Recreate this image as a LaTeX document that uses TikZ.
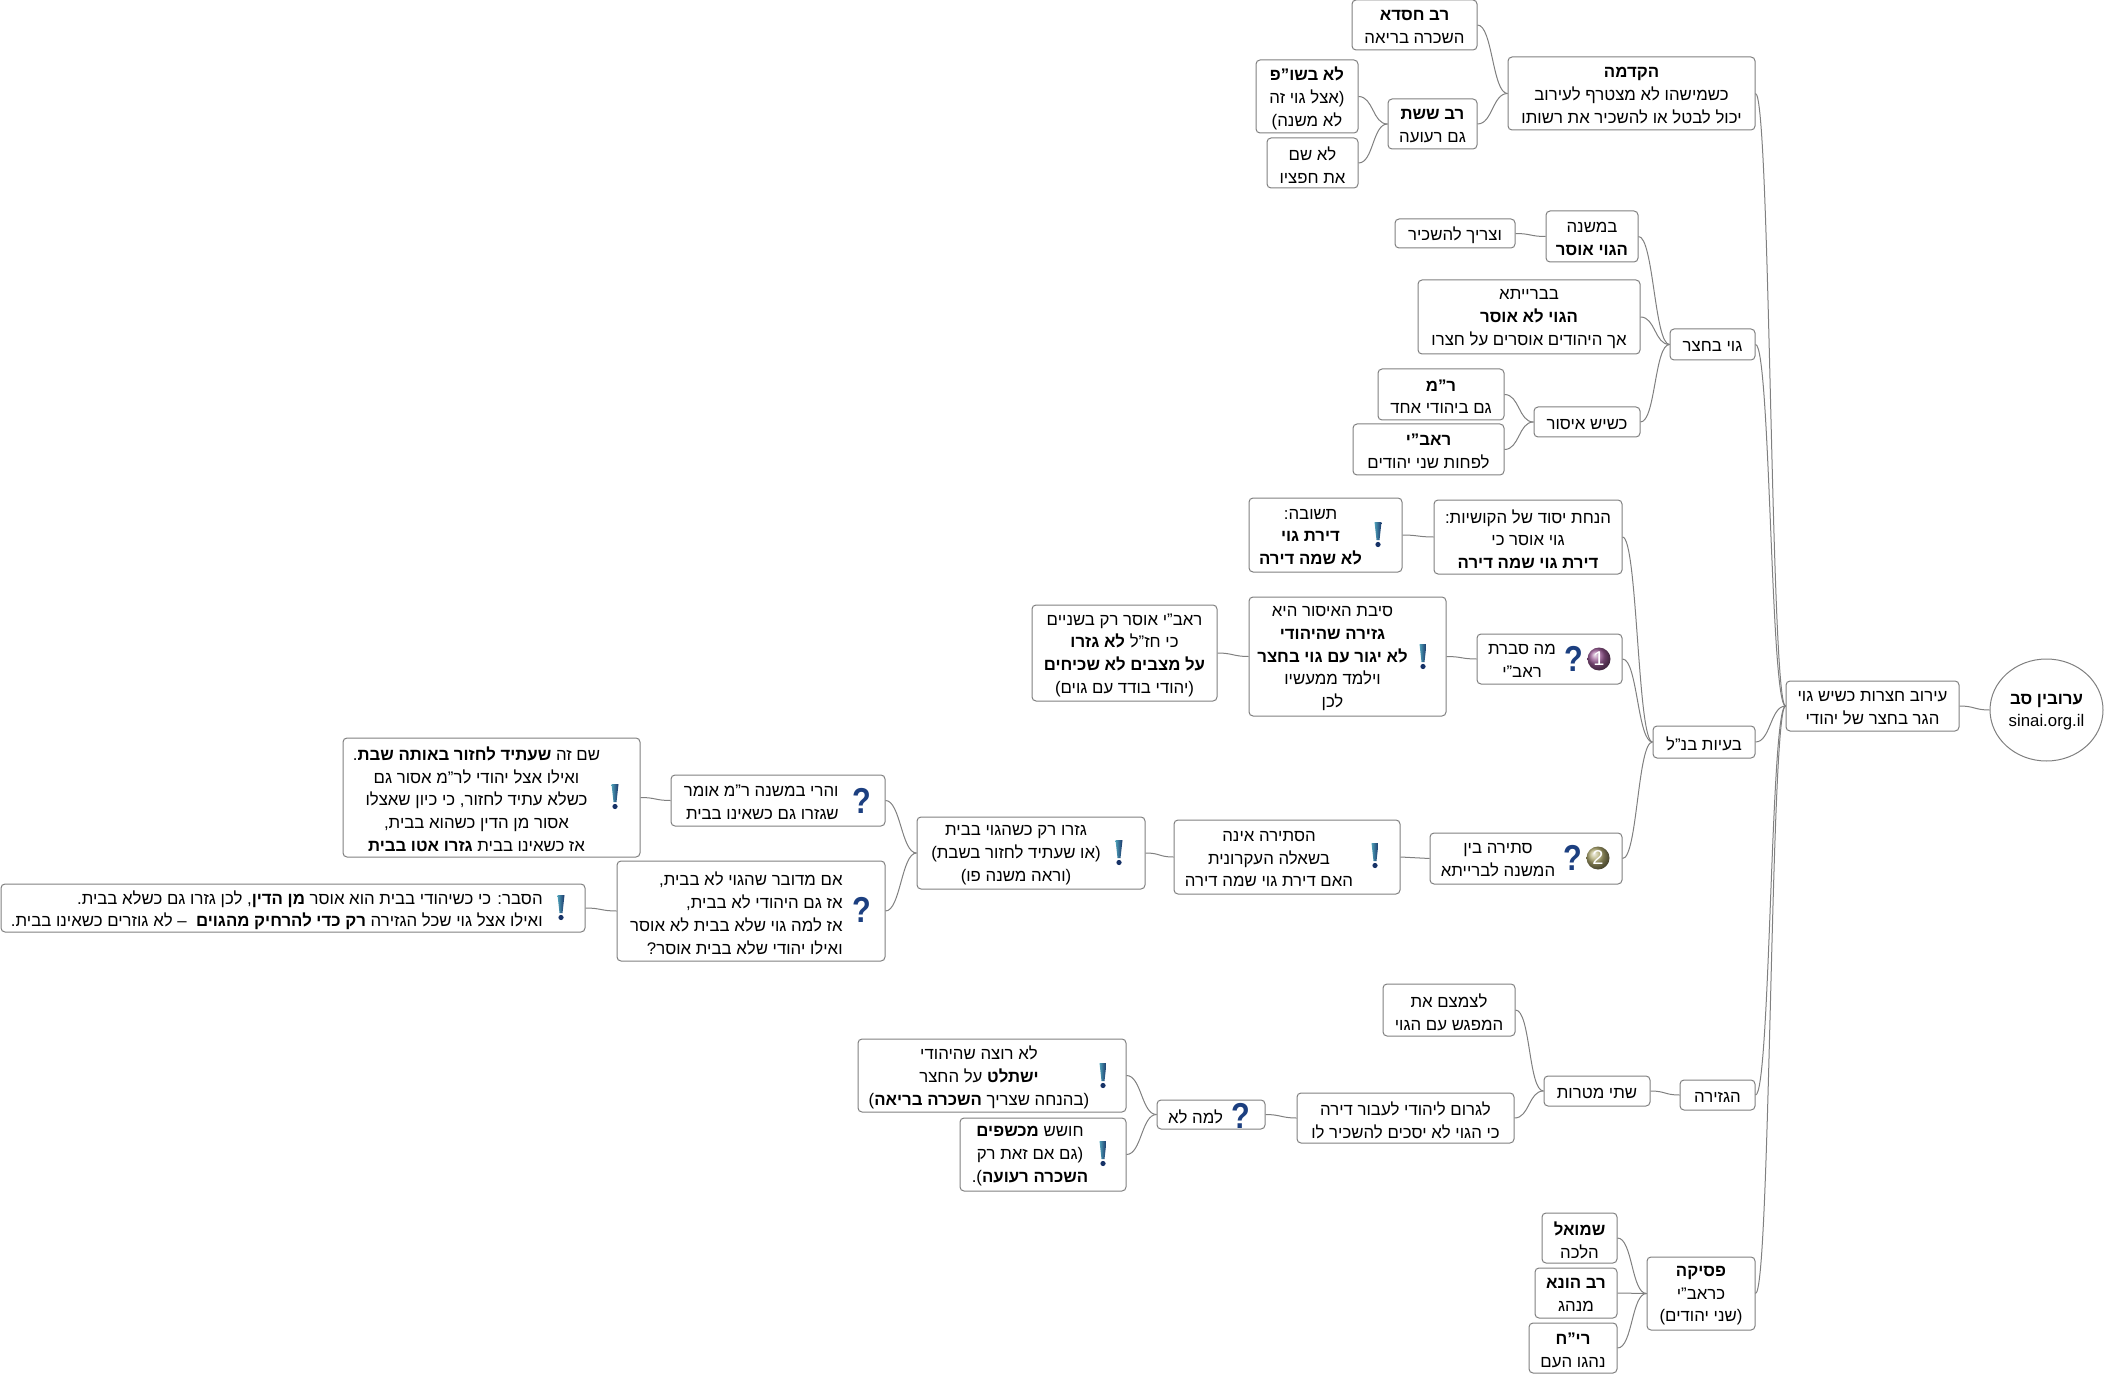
\documentclass[tikz,border=0pt]{standalone}
\usepackage{fontspec}
\setmainfont[Script=Hebrew]{Liberation Sans}
\TeXXeTstate=1
\usepackage{xcolor}
\usepackage{graphicx}
\usetikzlibrary{shapes.geometric}
\newcommand{\low}[1]{\raisebox{-1.1pt}[\height][\depth]{#1}}
\newcommand{\heb}[1]{\low{\beginR #1\endR}}
\definecolor{linegray}{HTML}{808080}
\definecolor{iconblue}{HTML}{1C3F80}
\definecolor{iconteal}{HTML}{4FA0B8}
\definecolor{ballone}{HTML}{9A5A95}
\definecolor{balltwo}{HTML}{B0AA70}
\begin{document}
\begin{tikzpicture}[x=0.5pt, y=-0.5pt, every node/.style={font=\fontsize{8.4}{11.4}\selectfont}]
\tikzset{
  sz/.style 2 args={minimum width=#1*0.5pt, minimum height=#2*0.5pt},
  mcell/.style={draw=linegray, fill=white, rounded corners=2pt, line width=0.5pt, inner sep=0pt, align=center},
  tcell/.style={inner sep=0pt, align=center},
  rcell/.style={inner sep=0pt, align=right, anchor=east},
  link/.style={draw=linegray, line width=0.5pt},
  bangpic/.pic={
    \shade[left color=iconteal, right color=iconblue!80!black] (-3.5,-12) -- (3.5,-12) -- (1.5,6) -- (-1.5,6) -- cycle;
    \fill[iconblue!80!black] (0,10.5) circle[radius=1.3pt];
  },
  ask/.style={inner sep=0pt, text=iconblue, font=\fontsize{18}{18}\selectfont\bfseries},
  ballnum/.style={circle, inner sep=0pt, minimum size=11.5pt, text=white, font=\fontsize{10}{10}\selectfont},
}
\newcommand{\askmark}{\scalebox{0.85}[1]{?}}
\useasboundingbox (0,0) rectangle (2104,1374);
% root and main topic
\node[draw=linegray, fill=white, ellipse, line width=0.5pt, inner sep=0pt, align=center, sz={113}{102}] (root) at (2046.5,710) {\heb{\textbf{ערובין סב}}\\\low{sinai.org.il}};
\node[mcell, sz={173}{50}] (eiruv) at (1872.5,706) {\heb{עירוב חצרות כשיש גוי}\\\heb{הגר בחצר של יהודי}};
% introduction
\node[mcell, sz={247}{73}] (hakdama) at (1631.5,93.5) {\heb{\textbf{הקדמה}}\\\heb{כשמישהו לא מצטרף לעירוב}\\\heb{יכול לבטל או להשכיר את רשותו}};
\node[mcell, sz={125}{50}] (ravchisda) at (1414.5,25) {\heb{\textbf{רב חסדא}}\\\heb{השכרה בריאה}};
\node[mcell, sz={89}{50}] (ravsheshet) at (1432.5,124) {\heb{\textbf{רב ששת}}\\\heb{גם רעועה}};
\node[mcell, sz={102}{73}] (lobeshup) at (1307,96.5) {\heb{\textbf{לא בשו"פ}}\\\heb{(אצל גוי זה}\\\heb{לא משנה)}};
\node[mcell, sz={91}{50}] (loshem) at (1312.5,163) {\heb{לא שם}\\\heb{את חפציו}};
% gentile in the yard
\node[mcell, sz={85}{31}] (goyb) at (1712.5,344.5) {\heb{גוי בחצר}};
\node[mcell, sz={92}{51}] (bamishna) at (1592,236.5) {\heb{במשנה}\\\heb{\textbf{הגוי אוסר}}};
\node[mcell, sz={120}{29}] (vetzarich) at (1455,233.5) {\heb{וצריך להשכיר}};
\node[mcell, sz={222}{74}] (baraita) at (1529,317) {\heb{בברייתא}\\\heb{\textbf{הגוי לא אוסר}}\\\heb{אך היהודים אוסרים על חצרו}};
\node[mcell, sz={106}{30}] (ksheyesh) at (1587,422) {\heb{כשיש איסור}};
\node[mcell, sz={126}{51}] (ramam) at (1441,394.5) {\heb{\textbf{ר"מ}}\\\heb{גם ביהודי אחד}};
\node[mcell, sz={151}{51}] (raavi) at (1428.5,449.5) {\heb{\textbf{ראב"י}}\\\heb{לפחות שני יהודים}};
% problems
\node[mcell, sz={102}{32}] (baayot) at (1704,742) {\heb{בעיות בנ"ל}};
\node[mcell, sz={188}{74}] (hanachat) at (1528,537) {\heb{הנחת יסוד של הקושיות:}\\\heb{גוי אוסר כי}\\\heb{\textbf{דירת גוי שמה דירה}}};
\node[mcell, sz={153}{74}] (teshuva) at (1325.5,535) {};
\node[tcell] (teshuvatxt) at (1310.5,535) {\heb{תשובה:}\\\heb{\textbf{דירת גוי}}\\\heb{\textbf{לא שמה דירה}}};
\pic (teshuvaicon) at (1378,534) {bangpic};
\node[mcell, sz={145}{50}] (masvarat) at (1549.5,659) {};
\node[tcell] (masvarattxt) at (1522,659) {\heb{מה סברת}\\\heb{ראב"י}};
\node[ask] (masvaraticon) at (1574,659) {\askmark};
\node[ballnum, shading=ball, ball color=ballone] (masvaratnum) at (1599,659) {1};
\node[mcell, sz={197}{119}] (sibat) at (1347.5,656.5) {};
\node[tcell] (sibattxt) at (1332.5,656.5) {\heb{סיבת האיסור היא}\\\heb{\textbf{גזירה שהיהודי}}\\\heb{\textbf{לא יגור עם גוי בחצר}}\\\heb{וילמד ממעשיו}\\\heb{לכן}};
\pic (sibaticon) at (1423,656) {bangpic};
\node[mcell, sz={185}{96}] (raaviosser) at (1124.5,653) {\heb{ראב"י אוסר רק בשניים}\\\heb{כי חז"ל \textbf{לא גזרו}}\\\heb{\textbf{על מצבים לא שכיחים}}\\\heb{(יהודי בודד עם גוים)}};
% contradiction
\node[mcell, sz={192}{51}] (stira) at (1526,858.5) {};
\node[tcell] (stiratxt) at (1498,858) {\heb{סתירה בין}\\\heb{המשנה לברייתא}};
\node[ask] (stiraicon) at (1573,858) {\askmark};
\node[ballnum, shading=ball, ball color=balltwo] (stiranum) at (1598,858) {2};
\node[mcell, sz={226}{74}] (hastira) at (1287,857) {};
\node[tcell] (hastiratxt) at (1269,857) {\heb{הסתירה אינה}\\\heb{בשאלה העקרונית}\\\heb{האם דירת גוי שמה דירה}};
\pic (hastiraicon) at (1375,855) {bangpic};
\node[mcell, sz={228}{72}] (gazru) at (1031,853) {};
\node[tcell] (gazrutxt) at (1016,853) {\heb{גזרו רק כשהגוי בבית}\\\heb{(או שעתיד לחזור בשבת)}\\\heb{(וראה משנה פו)}};
\pic (gazruicon) at (1119,852) {bangpic};
\node[mcell, sz={214}{51}] (vaharei) at (778,800.5) {};
\node[rcell] (vahareitxt) at (839,800) {\heb{והרי במשנה ר"מ אומר}\\\heb{שגזרו גם כשאינו בבית}};
\node[ask] (vahareiicon) at (862,801) {\askmark};
\node[mcell, sz={268}{100}] (medubar) at (751,911) {};
\node[rcell] (medubartxt) at (843,911) {\heb{אם מדובר שהגוי לא בבית,}\\\heb{אז גם היהודי לא בבית,}\\\heb{אז למה גוי שלא בבית לא אוסר}\\\heb{ואילו יהודי שלא בבית אוסר?}};
\node[ask] (medubaricon) at (862,910) {\askmark};
\node[mcell, sz={297}{119}] (sham) at (491.5,797.5) {};
\node[tcell] (shamtxt) at (476.5,797) {\heb{שם זה \textbf{שעתיד לחזור באותה שבת}.}\\\heb{ואילו אצל יהודי לר"מ אסור גם}\\\heb{כשלא עתיד לחזור, כי כיון שאצלו}\\\heb{אסור מן הדין כשהוא בבית,}\\\heb{אז כשאינו בבית \textbf{גזרו אטו בבית}}};
\pic (shamicon) at (615,796) {bangpic};
\node[mcell, sz={584}{48}] (hesber) at (293,908) {};
\node[rcell] (hesbertxt) at (543,908) {\heb{הסבר: כי כשיהודי בבית הוא אוסר \textbf{מן הדין}, לכן גזרו גם כשלא בבית.}\\\heb{ואילו אצל גוי שכל הגזירה \textbf{רק כדי להרחיק מהגוים}\ \ – לא גוזרים כשאינו בבית.}};
\pic (hesbericon) at (561,907) {bangpic};
% the decree
\node[mcell, sz={75}{30}] (hagzeira) at (1717.5,1095) {\heb{הגזירה}};
\node[mcell, sz={106}{30}] (shtei) at (1597,1091) {\heb{שתי מטרות}};
\node[mcell, sz={132}{52}] (letzamtzem) at (1449,1010) {\heb{לצמצם את}\\\heb{המפגש עם הגוי}};
\node[mcell, sz={217}{50}] (ligrom) at (1405.5,1118) {\heb{לגרום ליהודי לעבור דירה}\\\heb{כי הגוי לא יסכים להשכיר לו}};
\node[mcell, sz={108}{29}] (lamalo) at (1211,1114.5) {};
\node[tcell] (lamalotxt) at (1195.5,1115) {\heb{למה לא}};
\node[ask] (lamaloicon) at (1241,1116) {\askmark};
\node[mcell, sz={268}{73}] (lorotze) at (992,1075.5) {};
\node[tcell] (lorotzetxt) at (979,1075) {\heb{לא רוצה שהיהודי}\\\heb{\textbf{ישתלט} על החצר}\\\heb{(בהנחה שצריך \textbf{השכרה בריאה})}};
\pic (lorotzeicon) at (1103,1075) {bangpic};
\node[mcell, sz={166}{73}] (choshesh) at (1043,1154.5) {};
\node[tcell] (choshtxt) at (1030,1154) {\heb{חושש \textbf{מכשפים}}\\\heb{(גם אם זאת רק}\\\heb{\textbf{השכרה רעועה}).}};
\pic (choshicon) at (1103,1153) {bangpic};
% ruling
\node[mcell, sz={108}{73}] (psika) at (1701,1293.5) {\heb{\textbf{פסיקה}}\\\heb{כראב"י}\\\heb{(שני יהודים)}};
\node[mcell, sz={75}{50}] (shmuel) at (1579.5,1238) {\heb{\textbf{שמואל}}\\\heb{הלכה}};
\node[mcell, sz={82}{50}] (ravhuna) at (1576,1293) {\heb{\textbf{רב הונא}}\\\heb{מנהג}};
\node[mcell, sz={88}{50}] (rich) at (1573,1348) {\heb{\textbf{רי"ח}}\\\heb{נהגו העם}};
% links, child first
\foreach \a/\b in {eiruv/root, hakdama/eiruv, goyb/eiruv, baayot/eiruv, hagzeira/eiruv, psika/eiruv,
  ravchisda/hakdama, ravsheshet/hakdama, lobeshup/ravsheshet, loshem/ravsheshet,
  bamishna/goyb, baraita/goyb, ksheyesh/goyb, vetzarich/bamishna, ramam/ksheyesh, raavi/ksheyesh,
  hanachat/baayot, masvarat/baayot, stira/baayot, teshuva/hanachat, sibat/masvarat, raaviosser/sibat,
  hastira/stira, gazru/hastira, vaharei/gazru, medubar/gazru, sham/vaharei, hesber/medubar,
  shtei/hagzeira, letzamtzem/shtei, ligrom/shtei, lamalo/ligrom, lorotze/lamalo, choshesh/lamalo,
  shmuel/psika, ravhuna/psika, rich/psika} {
  \draw[link] (\a.east) .. controls +(15,0) and +(-15,0) .. (\b.west);
}
\end{tikzpicture}
\end{document}
